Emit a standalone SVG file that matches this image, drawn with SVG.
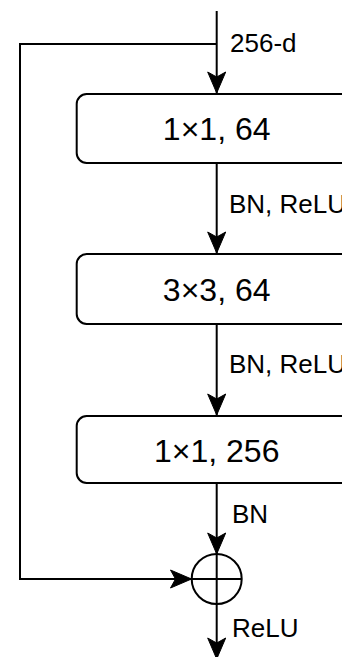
<svg xmlns="http://www.w3.org/2000/svg" width="342" height="657" viewBox="0 0 342 657">
  <style>
    .box { fill: #ffffff; stroke: #000000; stroke-width: 2; }
    .edge { fill: none; stroke: #000000; stroke-width: 2; }
    .title { font-family: "Liberation Sans", Arial, Helvetica, sans-serif; font-size: 32px; fill: #000000; text-anchor: middle; }
    .label { font-family: "Liberation Sans", Arial, Helvetica, sans-serif; font-size: 26px; fill: #000000; }
  </style>
  <defs>
    <marker id="arrow" markerUnits="userSpaceOnUse" markerWidth="24" markerHeight="22" viewBox="-22 -11 24 22" refX="0" refY="0" orient="auto" overflow="visible">
      <path d="M0,0 L-21,-9 L-16,0 L-21,9 Z" fill="#000000" stroke="#000000" stroke-width="1" stroke-linejoin="miter"/>
    </marker>
  </defs>
  <rect width="342" height="657" fill="#ffffff"/>

  <g id="connectors">
    <!-- input into first conv -->
    <line class="edge" x1="216.7" y1="11" x2="216.7" y2="93" marker-end="url(#arrow)"/>
    <!-- identity shortcut -->
    <polyline class="edge" points="216.7,44 20,44 20,579 191.5,579" marker-end="url(#arrow)"/>
    <line class="edge" x1="216.7" y1="163" x2="216.7" y2="253" marker-end="url(#arrow)"/>
    <line class="edge" x1="216.7" y1="324" x2="216.7" y2="415" marker-end="url(#arrow)"/>
    <line class="edge" x1="216.7" y1="483" x2="216.7" y2="554" marker-end="url(#arrow)"/>
    <!-- output -->
    <line class="edge" x1="216.7" y1="604" x2="216.7" y2="659" marker-end="url(#arrow)"/>
    <text class="label" x="230" y="52">256-d</text>
    <text class="label" x="229" y="213">BN, ReLU</text>
    <text class="label" x="229" y="373">BN, ReLU</text>
    <text class="label" x="232" y="523">BN</text>
    <text class="label" x="232" y="637">ReLU</text>
  </g>

  <g id="conv1">
    <rect class="box" x="76.7" y="94" width="280" height="69" rx="10" ry="10"/>
    <text class="title" x="216.7" y="140">1×1, 64</text>
  </g>
  <g id="conv2">
    <rect class="box" x="76.7" y="254" width="280" height="70" rx="10" ry="10"/>
    <text class="title" x="216.7" y="301">3×3, 64</text>
  </g>
  <g id="conv3">
    <rect class="box" x="76.7" y="416" width="280" height="67" rx="10" ry="10"/>
    <text class="title" x="216.7" y="462">1×1, 256</text>
  </g>
  <g id="sum">
    <circle class="box" cx="216.7" cy="579" r="25"/>
    <line class="edge" x1="191.7" y1="579" x2="241.7" y2="579"/>
    <line class="edge" x1="216.7" y1="554" x2="216.7" y2="604"/>
  </g>
</svg>
